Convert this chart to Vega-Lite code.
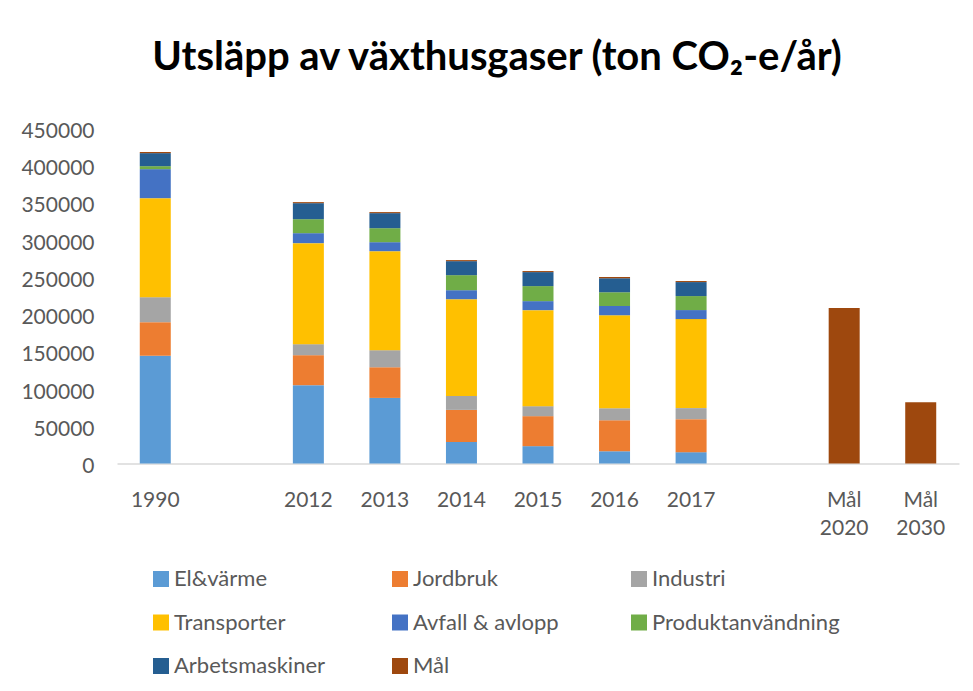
{
  "$schema": "https://vega.github.io/schema/vega-lite/v6.json",
  "autosize": {"type": "none"},
  "padding": {"left": 117, "top": 128.5, "right": 14, "bottom": 227.5},
  "width": 842,
  "height": 335,
  "background": "white",
  "title": {
    "text": "Utsläpp av växthusgaser (ton CO₂-e/år)",
    "font": "Lato",
    "fontWeight": "bold",
    "fontSize": 40,
    "color": "#000000",
    "anchor": "middle",
    "frame": "group",
    "dx": -41,
    "baseline": "alphabetic",
    "offset": 11
  },
  "data": {
    "values": [
      {"cat": "1990", "sector": "El&värme", "k": 1, "value": 144600},
      {"cat": "1990", "sector": "Jordbruk", "k": 2, "value": 45300},
      {"cat": "1990", "sector": "Industri", "k": 3, "value": 33500},
      {"cat": "1990", "sector": "Transporter", "k": 4, "value": 133000},
      {"cat": "1990", "sector": "Avfall & avlopp", "k": 5, "value": 39000},
      {"cat": "1990", "sector": "Produktanvändning", "k": 6, "value": 4000},
      {"cat": "1990", "sector": "Arbetsmaskiner", "k": 7, "value": 17500},
      {"cat": "1990", "sector": "Mål", "k": 8, "value": 1500},
      {"cat": "2012", "sector": "El&värme", "k": 1, "value": 105200},
      {"cat": "2012", "sector": "Jordbruk", "k": 2, "value": 40300},
      {"cat": "2012", "sector": "Industri", "k": 3, "value": 14800},
      {"cat": "2012", "sector": "Transporter", "k": 4, "value": 135700},
      {"cat": "2012", "sector": "Avfall & avlopp", "k": 5, "value": 13400},
      {"cat": "2012", "sector": "Produktanvändning", "k": 6, "value": 18800},
      {"cat": "2012", "sector": "Arbetsmaskiner", "k": 7, "value": 21500},
      {"cat": "2012", "sector": "Mål", "k": 8, "value": 1400},
      {"cat": "2013", "sector": "El&värme", "k": 1, "value": 88100},
      {"cat": "2013", "sector": "Jordbruk", "k": 2, "value": 41200},
      {"cat": "2013", "sector": "Industri", "k": 3, "value": 22900},
      {"cat": "2013", "sector": "Transporter", "k": 4, "value": 133000},
      {"cat": "2013", "sector": "Avfall & avlopp", "k": 5, "value": 12100},
      {"cat": "2013", "sector": "Produktanvändning", "k": 6, "value": 18800},
      {"cat": "2013", "sector": "Arbetsmaskiner", "k": 7, "value": 20200},
      {"cat": "2013", "sector": "Mål", "k": 8, "value": 1400},
      {"cat": "2014", "sector": "El&värme", "k": 1, "value": 29000},
      {"cat": "2014", "sector": "Jordbruk", "k": 2, "value": 43000},
      {"cat": "2014", "sector": "Industri", "k": 3, "value": 18800},
      {"cat": "2014", "sector": "Transporter", "k": 4, "value": 129900},
      {"cat": "2014", "sector": "Avfall & avlopp", "k": 5, "value": 12100},
      {"cat": "2014", "sector": "Produktanvändning", "k": 6, "value": 20200},
      {"cat": "2014", "sector": "Arbetsmaskiner", "k": 7, "value": 18800},
      {"cat": "2014", "sector": "Mål", "k": 8, "value": 1400},
      {"cat": "2015", "sector": "El&värme", "k": 1, "value": 23300},
      {"cat": "2015", "sector": "Jordbruk", "k": 2, "value": 40300},
      {"cat": "2015", "sector": "Industri", "k": 3, "value": 13400},
      {"cat": "2015", "sector": "Transporter", "k": 4, "value": 129000},
      {"cat": "2015", "sector": "Avfall & avlopp", "k": 5, "value": 12100},
      {"cat": "2015", "sector": "Produktanvändning", "k": 6, "value": 20200},
      {"cat": "2015", "sector": "Arbetsmaskiner", "k": 7, "value": 18800},
      {"cat": "2015", "sector": "Mål", "k": 8, "value": 1400},
      {"cat": "2016", "sector": "El&värme", "k": 1, "value": 16500},
      {"cat": "2016", "sector": "Jordbruk", "k": 2, "value": 41700},
      {"cat": "2016", "sector": "Industri", "k": 3, "value": 16100},
      {"cat": "2016", "sector": "Transporter", "k": 4, "value": 125000},
      {"cat": "2016", "sector": "Avfall & avlopp", "k": 5, "value": 12100},
      {"cat": "2016", "sector": "Produktanvändning", "k": 6, "value": 18800},
      {"cat": "2016", "sector": "Arbetsmaskiner", "k": 7, "value": 18800},
      {"cat": "2016", "sector": "Mål", "k": 8, "value": 1400},
      {"cat": "2017", "sector": "El&värme", "k": 1, "value": 15200},
      {"cat": "2017", "sector": "Jordbruk", "k": 2, "value": 44400},
      {"cat": "2017", "sector": "Industri", "k": 3, "value": 14800},
      {"cat": "2017", "sector": "Transporter", "k": 4, "value": 119600},
      {"cat": "2017", "sector": "Avfall & avlopp", "k": 5, "value": 12100},
      {"cat": "2017", "sector": "Produktanvändning", "k": 6, "value": 18800},
      {"cat": "2017", "sector": "Arbetsmaskiner", "k": 7, "value": 18800},
      {"cat": "2017", "sector": "Mål", "k": 8, "value": 1400},
      {"cat": "Mål 2020", "sector": "Mål", "k": 8, "value": 209000},
      {"cat": "Mål 2030", "sector": "Mål", "k": 8, "value": 82300}
    ]
  },
  "mark": {"type": "bar"},
  "encoding": {
    "x": {
      "field": "cat",
      "type": "nominal",
      "scale": {
        "domain": ["1990", "g1", "2012", "2013", "2014", "2015", "2016", "2017", "g2", "Mål 2020", "Mål 2030"],
        "paddingInner": 0.595,
        "paddingOuter": 0.2975
      },
      "axis": {
        "title": null,
        "labelAngle": 0,
        "labelExpr": "indexof(datum.value, 'g') == 0 ? '' : (indexof(datum.value, 'Mål') == 0 ? split(datum.value, ' ') : datum.value)",
        "labelFont": "Lato",
        "labelFontSize": 21,
        "labelColor": "#595959",
        "labelPadding": 26,
        "labelLineHeight": 28,
        "ticks": false,
        "domainColor": "#D9D9D9",
        "domainWidth": 1.5,
        "grid": false
      }
    },
    "y": {
      "field": "value",
      "type": "quantitative",
      "aggregate": "sum",
      "stack": "zero",
      "scale": {"domain": [0, 450000], "nice": false},
      "axis": {
        "title": null,
        "values": [0, 50000, 100000, 150000, 200000, 250000, 300000, 350000, 400000, 450000],
        "format": "d",
        "labelFont": "Lato",
        "labelFontSize": 21,
        "labelColor": "#595959",
        "labelPadding": 23,
        "labelOffset": 3,
        "ticks": false,
        "domain": false,
        "grid": false
      }
    },
    "color": {
      "field": "sector",
      "type": "nominal",
      "scale": {
        "domain": ["El&värme", "Jordbruk", "Industri", "Transporter", "Avfall & avlopp", "Produktanvändning", "Arbetsmaskiner", "Mål"],
        "range": ["#5B9BD5", "#ED7D31", "#A5A5A5", "#FFC000", "#4472C4", "#70AD47", "#255E91", "#9E480E"]
      },
      "legend": {
        "title": null,
        "orient": "none",
        "legendX": 33,
        "legendY": 439.5,
        "direction": "horizontal",
        "columns": 3,
        "gridAlign": "all",
        "symbolType": "square",
        "symbolSize": 256,
        "symbolStrokeWidth": 0,
        "labelFont": "Lato",
        "labelFontSize": 22,
        "labelColor": "#595959",
        "labelOffset": 2,
        "columnPadding": 27,
        "rowPadding": 21.5,
        "labelLimit": 300
      }
    },
    "order": {"field": "k", "type": "quantitative", "sort": "ascending"}
  },
  "config": {
    "view": {"stroke": null}
  }
}
